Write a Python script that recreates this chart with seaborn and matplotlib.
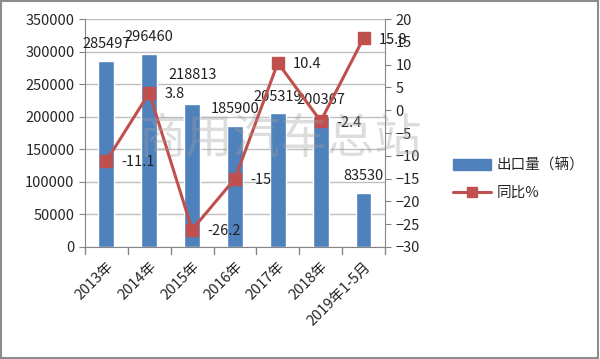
import numpy as np
import pandas as pd
import seaborn as sns
import matplotlib.pyplot as plt
from matplotlib.patches import Patch, Rectangle
from matplotlib.lines import Line2D

categories = ['2013年', '2014年', '2015年', '2016年', '2017年', '2018年', '2019年1-5月']
exports = [285497, 296460, 218813, 185900, 205319, 200367, 83530]
yoy = [-11.1, 3.8, -26.2, -15, 10.4, -2.4, 15.8]
bar_name = '出口量（辆）'
line_name = '同比%'

sns.set_style('white')
plt.rcParams['font.family'] = ['Noto Sans CJK SC', 'DejaVu Sans']
plt.rcParams['font.size'] = 10

blue = '#4F81BD'
red = '#C0504D'
grid_c = '#BFBFBF'

df = pd.DataFrame({'cat': categories, 'exports': exports, 'yoy': yoy})

fig = plt.figure(figsize=(6, 3.59), dpi=100)
ax = fig.add_axes([85 / 600, 1 - 247 / 359, 300 / 600, 228 / 359])

sns.barplot(data=df, x='cat', y='exports', color=blue, width=0.37,
            saturation=1, ax=ax, zorder=2)
ax.set_ylim(0, 350000)
ax.set_yticks(np.arange(0, 350001, 50000))
ax.set_xlim(-0.5, len(categories) - 0.5)
ax.yaxis.grid(True, color=grid_c, lw=1)
ax.set_axisbelow(True)
ax.set_xlabel('')
ax.set_ylabel('')
ax.set_xticks(np.arange(len(categories)))
ax.set_xticklabels(categories, rotation=45, ha='right', rotation_mode='anchor')
ax.tick_params(axis='x', length=0, pad=9)
for b in np.arange(-0.5, len(categories), 1.0):
    ax.plot([b, b], [0, -0.03], transform=ax.get_xaxis_transform(),
            color='#868686', lw=1, clip_on=False)
ax.tick_params(axis='y', length=4, color='#868686', left=True)
for s in ['top', 'right']:
    ax.spines[s].set_visible(False)
for s in ['left', 'bottom']:
    ax.spines[s].set_color('#868686')

for i, v in enumerate(exports):
    off = 21 if i == 2 else 12
    ax.annotate(str(v), (i, v), xytext=(0, off), textcoords='offset points',
                ha='center', va='center', fontsize=10.5, color='#222222')

ax2 = ax.twinx()
ax2.plot(np.arange(len(categories)), yoy, color=red, lw=2.2, marker='s',
         markersize=8.5, zorder=3)
ax2.set_ylim(-30, 20)
ax2.set_yticks(np.arange(-30, 21, 5))
ax2.tick_params(axis='y', length=4, color='#868686', right=True)
for s in ['top', 'left', 'bottom']:
    ax2.spines[s].set_visible(False)
ax2.spines['right'].set_color('#868686')
for i, v in enumerate(yoy):
    ax2.annotate(f'{v:g}', (i, v), xytext=(11, -1), textcoords='offset points',
                 ha='left', va='center', fontsize=10.5, color='#222222')

for t in ax.get_yticklabels() + ax2.get_yticklabels():
    t.set_fontsize(10.5)
for t in ax.get_xticklabels():
    t.set_fontsize(10.5)

handles = [Patch(facecolor=blue, edgecolor=blue),
           Line2D([], [], color=red, lw=2.2, marker='s', markersize=7)]
fig.legend(handles, [bar_name, line_name], loc='center left',
           bbox_to_anchor=(440 / 600, 1 - 179 / 359), frameon=False,
           fontsize=10.5, handlelength=2.6, labelspacing=0.9, handletextpad=0.4)

fig.text(280 / 600, 1 - 140 / 359, '商用汽车总站', fontsize=34, color='#A0A0A0',
         alpha=0.35, ha='center', va='center', zorder=10, fontweight='light')

fig.patches.append(Rectangle((0.002, 0.003), 0.995, 0.993, transform=fig.transFigure,
                             fill=False, edgecolor='#8C8C8C', lw=1.5))

fig.savefig('out.png', dpi=100)
